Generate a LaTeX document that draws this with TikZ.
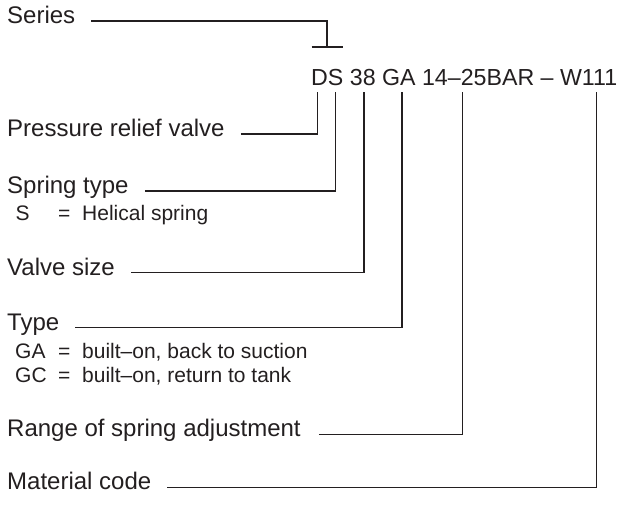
\documentclass[tikz,border=0pt]{standalone}
\usepackage{fontspec}
\setmainfont{Liberation Sans}
\definecolor{ink}{RGB}{35,31,32}
\begin{document}
\begin{tikzpicture}[x=1pt,y=-1pt,
  lab/.style={anchor=west,inner sep=0pt,text height=0.52em,text depth=0pt,
    font=\fontsize{24}{28}\selectfont,text=ink},
  sub/.style={anchor=base west,inner sep=0pt,font=\fontsize{21}{25}\selectfont,text=ink},
  code/.style={anchor=base west,inner sep=0pt,font=\fontsize{23.2}{27}\selectfont,text=ink},
  conn/.style={draw=ink,line width=1.3pt}]
\useasboundingbox (0,0) rectangle (626,504);

% code
\node[code] (code) at (311,85) {DS 38 GA 14–25BAR – W111};

% connector tops
\coordinate (tSeries) at (327,47);
\coordinate (tD) at (317.3,92);
\coordinate (tS) at (335.3,92);
\coordinate (t38) at (364,92);
\coordinate (tGA) at (402,92);
\coordinate (tRange) at (462.7,92);
\coordinate (tW) at (596.7,92);
\coordinate (barL) at (311.5,47);
\coordinate (barR) at (342.7,47);

% labels
\node[lab] (series) at (7,21) {Series};
\node[lab] (prv) at (7,134) {Pressure relief valve};
\node[lab] (spring) at (7,191) {Spring type};
\node[lab] (vsize) at (7,272.7) {Valve size};
\node[lab] (type) at (7,327.7) {Type};
\node[lab] (range) at (7,434.3) {Range of spring adjustment};
\node[lab] (mat) at (7,487.3) {Material code};

% sub lines
\node[sub] (sS) at (15.5,220) {S};
\node[sub] (sSeq) at (58,220) {=};
\node[sub] (sSt) at (82,220) {Helical spring};
\node[sub] (sGA) at (15,358) {GA};
\node[sub] (sGAeq) at (58,358) {=};
\node[sub] (sGAt) at (82,358) {built–on, back to suction};
\node[sub] (sGC) at (15,382) {GC};
\node[sub] (sGCeq) at (58,382) {=};
\node[sub] (sGCt) at (82,382) {built–on, return to tank};

% connectors
\draw[conn] ([xshift=16pt]series.east) -| (tSeries);
\draw[conn] (barL) -- (barR);
\draw[conn] ([xshift=16pt]prv.east) -| (tD);
\draw[conn] ([xshift=16pt]spring.east) -| (tS);
\draw[conn] ([xshift=16pt]vsize.east) -| (t38);
\draw[conn] ([xshift=16pt]type.east) -| (tGA);
\draw[conn] ([xshift=18pt]range.east) -| (tRange);
\draw[conn] ([xshift=16pt]mat.east) -| (tW);
\end{tikzpicture}
\end{document}
